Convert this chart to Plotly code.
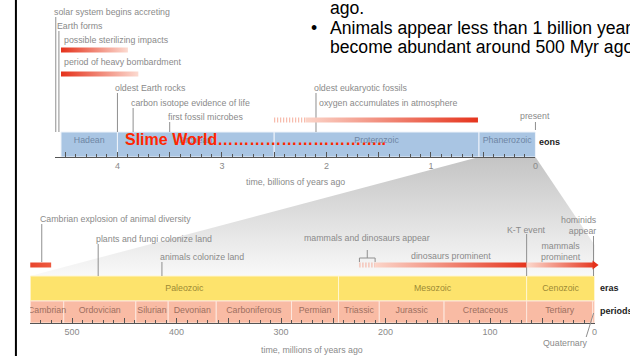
import plotly.graph_objects as go

# ---- data -------------------------------------------------------------------
# eons, billions of years ago
eon_names = ['Hadean', 'Archean', 'Proterozoic', 'Phanerozoic']
eon_start = [4.54, 4.0, 2.5, 0.54]
eon_end = [4.0, 2.5, 0.54, 0.0]

# eras and periods, millions of years ago
era_names = ['Paleozoic', 'Mesozoic', 'Cenozoic']
era_start = [540, 245, 65]
era_end = [245, 65, 0]

period_names = ['Cambrian', 'Ordovician', 'Silurian', 'Devonian', 'Carboniferous',
                'Permian', 'Triassic', 'Jurassic', 'Cretaceous', 'Tertiary']
period_start = [540, 508, 439, 408, 362, 290, 245, 206, 144, 65]
period_end = [508, 439, 408, 362, 290, 245, 206, 144, 65, 1.8]
quaternary = (1.8, 0)

# point events on the billion-year scale
top_events = ['solar system begins accreting', 'Earth forms', 'oldest Earth rocks',
              'carbon isotope evidence of life', 'first fossil microbes',
              'oldest eukaryotic fossils']
top_event_gyr = [4.59, 4.56, 4.0, 3.85, 3.5, 2.1]

# spans on the billion-year scale
top_spans = ['possible sterilizing impacts', 'period of heavy bombardment',
             'oxygen accumulates in atmosphere']
top_span_start = [4.54, 4.54, 2.2]
top_span_end = [3.9, 3.8, 0.55]
oxygen_first_traces = 2.5

# point events on the million-year scale
low_events = ['Cambrian explosion of animal diversity', 'plants and fungi colonize land',
              'animals colonize land', 'K-T event', 'hominids appear']
low_event_myr = [529, 475, 414, 65, 1]

cambrian_burst = (540, 520)
dinos_mammals_appear = (225, 210)
dinosaurs_prominent = (210, 65)
mammals_prominent = (65, 0)

top_ticks = [0, 0.5, 1, 1.5, 2, 2.5, 3, 3.5, 4, 4.5]
low_ticks = list(range(0, 541, 50))

# ---- page geometry (pixels) ------------------------------------------------
W, H = 630, 356
GYR_ZERO_PX, PX_PER_GYR = 538, 105
MYR_ZERO_PX, PX_PER_MYR = 597.4, 1.05
TOP_AXIS_START = 4.6


def gyr_px(t):
    return GYR_ZERO_PX - PX_PER_GYR * t


def myr_px(t):
    return MYR_ZERO_PX - PX_PER_MYR * t


EON_Y, EON_H = 144.5, 25
TOP_AXIS_Y = 157
ERA_Y, ERA_H = 288.5, 25
PER_Y, PER_H = 312, 22
LOW_AXIS_Y = 323
ERA_TOP = ERA_Y - ERA_H / 2

GRAY = '#8a8a8a'
LINE_GRAY = '#8f8f8f'
RED = '#e5321b'
PINK = '#fcdcd2'
FONT = 'Liberation Sans, Arial, sans-serif'
LABEL = dict(family=FONT, size=8.8, color=GRAY)

fig = go.Figure()


def mid(a, b):
    return (a + b) / 2


def grad_bar(x0, x1, y, h, c0, c1, xaxis):
    return go.Scatter(x=[x0, x1, x1, x0, x0],
                      y=[y - h / 2, y - h / 2, y + h / 2, y + h / 2, y - h / 2],
                      mode='lines', line=dict(width=0), fill='toself',
                      fillgradient=dict(type='horizontal',
                                        colorscale=[[0, c0], [1, c1]],
                                        start=x0, stop=x1),
                      xaxis=xaxis, yaxis='y', hoverinfo='skip')


def dashes(x0, x1, y, xaxis):
    return go.Scatter(x=[x0, x1], y=[y, y], mode='lines',
                      line=dict(color='#f5ad9b', width=5, dash='1px,2px'),
                      xaxis=xaxis, yaxis='y', hoverinfo='skip')


# zoom wedge from the Phanerozoic down to the lower scale (pixel axis)
wx = [gyr_px(eon_start[3]), gyr_px(eon_end[3]), myr_px(0), myr_px(0),
      myr_px(era_start[0]), gyr_px(eon_start[3])]
wy = [TOP_AXIS_Y, TOP_AXIS_Y, 245, ERA_TOP, ERA_TOP, TOP_AXIS_Y]
fig.add_trace(go.Scatter(x=wx, y=wy, mode='lines', line=dict(width=0), fill='toself',
                         fillgradient=dict(type='vertical',
                                           colorscale=[[0, '#c4c4c4'], [1, '#f9f9f9']],
                                           start=TOP_AXIS_Y, stop=ERA_TOP),
                         xaxis='x', yaxis='y', hoverinfo='skip'))

# eon bar
fig.add_trace(go.Bar(orientation='h', y=[EON_Y] * len(eon_names),
                     x=[s - e for s, e in zip(eon_start, eon_end)], base=eon_end,
                     width=EON_H, marker=dict(color='#a9c5e3',
                                              line=dict(color='#eef3fa', width=1)),
                     xaxis='x2', yaxis='y', hoverinfo='skip'))
fig.add_trace(go.Scatter(x=[mid(s, e) for s, e in zip(eon_start, eon_end)],
                         y=[EON_Y - 3.5] * len(eon_names), mode='text', text=eon_names,
                         textfont=dict(family=FONT, size=8.8, color='#6f85a3'),
                         xaxis='x2', yaxis='y', hoverinfo='skip'))

# era and period bars
fig.add_trace(go.Bar(orientation='h', y=[ERA_Y] * len(era_names),
                     x=[s - e for s, e in zip(era_start, era_end)], base=era_end,
                     width=ERA_H, marker=dict(color='#fde36c',
                                              line=dict(color='#fff6d0', width=1)),
                     xaxis='x3', yaxis='y', hoverinfo='skip'))
fig.add_trace(go.Bar(orientation='h', y=[PER_Y] * (len(period_names) + 1),
                     x=[s - e for s, e in zip(period_start + [quaternary[0]],
                                              period_end + [quaternary[1]])],
                     base=period_end + [quaternary[1]],
                     width=PER_H, marker=dict(color='#f9bba4',
                                              line=dict(color='#fde6dc', width=1)),
                     xaxis='x3', yaxis='y', hoverinfo='skip'))
fig.add_trace(go.Scatter(x=[mid(s, e) for s, e in zip(era_start, era_end)],
                         y=[ERA_Y] * len(era_names), mode='text', text=era_names,
                         textfont=dict(family=FONT, size=8.8, color='#9c8a35'),
                         xaxis='x3', yaxis='y', hoverinfo='skip'))
fig.add_trace(go.Scatter(x=[mid(s, e) for s, e in zip(period_start, period_end)],
                         y=[PER_Y - 1] * len(period_names), mode='text', text=period_names,
                         textfont=dict(family=FONT, size=8.8, color='#9d6f60'),
                         xaxis='x3', yaxis='y', hoverinfo='skip'))

# top events: leader lines and labels
top_label_y = [12, 26, 88, 103, 117, 88]
bar_top = EON_Y - EON_H / 2
lx, ly = [], []
for t, yl in zip(top_event_gyr, top_label_y):
    lx += [t, t, None]
    ly += [yl + 5, bar_top, None]
lx += [0, 0, None]
ly += [122, 130, None]
fig.add_trace(go.Scatter(x=lx, y=ly, mode='lines', line=dict(color=LINE_GRAY, width=1),
                         xaxis='x4', yaxis='y', hoverinfo='skip'))
for name, t, yl in zip(top_events, top_event_gyr, top_label_y):
    fig.add_annotation(x=t, y=yl, xref='x4', yref='y', text=name, showarrow=False,
                       xanchor='left', xshift=-4, font=LABEL)
fig.add_annotation(x=0, y=116, xref='x4', yref='y', text='present', showarrow=False,
                   font=LABEL)

# top spans
span_y = [50, 74, 120]
span_label_y = [40, 62, 103]
fig.add_trace(grad_bar(top_span_start[0], top_span_end[0], span_y[0], 5, RED, PINK, 'x4'))
fig.add_trace(grad_bar(top_span_start[1], top_span_end[1], span_y[1], 5, RED, PINK, 'x4'))
fig.add_trace(dashes(oxygen_first_traces, top_span_start[2], span_y[2], 'x4'))
fig.add_trace(grad_bar(top_span_start[2], top_span_end[2], span_y[2], 5, '#fbd3c7', RED, 'x4'))
for name, t, yl in zip(top_spans, [top_span_start[0], top_span_start[1], top_event_gyr[5]],
                       span_label_y):
    fig.add_annotation(x=t, y=yl, xref='x4', yref='y', text=name, showarrow=False,
                       xanchor='left', xshift=1, font=LABEL)

# lower events
low_label_y = [219, 239, 257, 230, 225.5]
low_line_top = [224, 244, 262, 234, 236]
low_line_bot = [262, ERA_TOP, ERA_TOP, ERA_TOP, ERA_TOP]
lx, ly = [], []
for t, y0, y1 in zip(low_event_myr, low_line_top, low_line_bot):
    lx += [t, t, None]
    ly += [y0, y1, None]
# bracket for "mammals and dinosaurs appear"
a, b = dinos_mammals_appear
lx += [a, a, b, b, None, mid(a, b), mid(a, b), None]
ly += [262, 258, 258, 262, None, 258, 250, None]
# Quaternary leader
lx += [mid(*quaternary), 8, None]
ly += [313, 337, None]
fig.add_trace(go.Scatter(x=lx, y=ly, mode='lines', line=dict(color=LINE_GRAY, width=1),
                         xaxis='x5', yaxis='y', hoverinfo='skip'))

for i in range(3):
    fig.add_annotation(x=low_event_myr[i], y=low_label_y[i], xref='x5', yref='y',
                       text=low_events[i], showarrow=False, xanchor='left', xshift=-4,
                       font=LABEL)
fig.add_annotation(x=low_event_myr[3], y=low_label_y[3], xref='x5', yref='y',
                   text=low_events[3], showarrow=False, font=LABEL)
fig.add_annotation(x=low_event_myr[4], y=low_label_y[4], xref='x5', yref='y',
                   text='hominids<br>appear', showarrow=False, xanchor='right',
                   align='right', xshift=5, font=LABEL)
fig.add_annotation(x=mid(a, b), y=238, xref='x5', yref='y',
                   text='mammals and dinosaurs appear', showarrow=False, font=LABEL)
fig.add_annotation(x=mid(*dinosaurs_prominent), y=256, xref='x5', yref='y',
                   text='dinosaurs prominent', showarrow=False, font=LABEL)
fig.add_annotation(x=mid(*mammals_prominent), y=251, xref='x5', yref='y',
                   text='mammals<br>prominent', showarrow=False, font=LABEL)
fig.add_annotation(x=28, y=343, xref='x5', yref='y', text='Quaternary',
                   showarrow=False, font=LABEL)

# lower spans
LOW_SPAN_Y = 265
fig.add_trace(grad_bar(cambrian_burst[0], cambrian_burst[1], LOW_SPAN_Y, 5,
                       '#e8452d', '#ee5a40', 'x5'))
fig.add_trace(dashes(dinos_mammals_appear[0], dinos_mammals_appear[1], LOW_SPAN_Y, 'x5'))
fig.add_trace(grad_bar(dinosaurs_prominent[0], dinosaurs_prominent[1], LOW_SPAN_Y, 5,
                       '#fbd3c7', RED, 'x5'))
fig.add_trace(grad_bar(mammals_prominent[0], mammals_prominent[1], LOW_SPAN_Y, 5,
                       '#fbd3c7', RED, 'x5'))
fig.add_trace(go.Scatter(x=[mammals_prominent[1]], y=[LOW_SPAN_Y], mode='markers',
                         marker=dict(symbol='triangle-right', size=8, color=RED),
                         xaxis='x5', yaxis='y', hoverinfo='skip'))

# slide commentary
fig.add_annotation(x=3.93, y=139, xref='x4', yref='y',
                   text='<b>Slime World' + '\u2026' * 10 + '..</b>', showarrow=False,
                   xanchor='left', xshift=-2,
                   font=dict(family=FONT, size=16, color='#ff2600'))
SLIDE = dict(family=FONT, size=17.6, color='black')
fig.add_annotation(x=330 / W, y=8, xref='paper', yref='y', text='ago.',
                   showarrow=False, xanchor='left', font=SLIDE)
fig.add_annotation(x=330 / W, y=28, xref='paper', yref='y',
                   text='Animals appear less than 1 billion years', showarrow=False,
                   xanchor='left', font=SLIDE)
fig.add_annotation(x=330 / W, y=47, xref='paper', yref='y',
                   text='become abundant around 500 Myr ago.', showarrow=False,
                   xanchor='left', font=SLIDE)
fig.add_annotation(x=316 / W, y=28, xref='paper', yref='y', text='\u2022',
                   showarrow=False, font=SLIDE)

# axis titles and row names
fig.add_annotation(x=0.5, y=182, xref='x2 domain', yref='y',
                   text='time, billions of years ago', showarrow=False, font=LABEL)
fig.add_annotation(x=0.5, y=350, xref='x3 domain', yref='y',
                   text='time, millions of years ago', showarrow=False, font=LABEL)
BOLD = dict(family=FONT, size=9, color='#222')
fig.add_annotation(x=1, y=142, xref='x2 domain', yref='y', text='<b>eons</b>',
                   showarrow=False, xanchor='left', xshift=2, font=BOLD)
fig.add_annotation(x=1, y=288, xref='x3 domain', yref='y', text='<b>eras</b>',
                   showarrow=False, xanchor='left', xshift=3, font=BOLD)
fig.add_annotation(x=1, y=311, xref='x3 domain', yref='y', text='<b>periods</b>',
                   showarrow=False, xanchor='left', xshift=3, font=BOLD)

tick_style = dict(anchor='free', showline=True, linecolor='#555', linewidth=1,
                  ticks='inside', ticklen=5, tickcolor='#555', tickwidth=1,
                  showgrid=False, zeroline=False,
                  tickfont=dict(family=FONT, size=9, color=GRAY))

fig.update_layout(
    width=W, height=H, margin=dict(l=0, r=0, t=0, b=0),
    paper_bgcolor='white', plot_bgcolor='rgba(0,0,0,0)',
    showlegend=False, barmode='overlay',
    xaxis=dict(domain=[0, 1], range=[0, W], visible=False, anchor='y'),
    xaxis2=dict(domain=[gyr_px(TOP_AXIS_START) / W, gyr_px(0) / W],
                range=[TOP_AXIS_START, 0], position=1 - TOP_AXIS_Y / H,
                tickvals=top_ticks,
                ticktext=[str(int(v)) if v == int(v) else '' for v in top_ticks],
                minor=dict(dtick=0.1, ticks='inside', ticklen=3, tickcolor='#555'),
                **tick_style),
    xaxis3=dict(domain=[myr_px(540) / W, myr_px(0) / W],
                range=[540, 0], position=1 - LOW_AXIS_Y / H,
                tickvals=low_ticks,
                ticktext=[str(v) if v % 100 == 0 else '' for v in low_ticks],
                minor=dict(dtick=10, ticks='inside', ticklen=3, tickcolor='#555'),
                **tick_style),
    xaxis4=dict(domain=[0, 1], range=[GYR_ZERO_PX / PX_PER_GYR,
                                      (GYR_ZERO_PX - W) / PX_PER_GYR],
                visible=False, anchor='y'),
    xaxis5=dict(domain=[0, 1], range=[MYR_ZERO_PX / PX_PER_MYR,
                                      (MYR_ZERO_PX - W) / PX_PER_MYR],
                visible=False, anchor='y'),
    yaxis=dict(domain=[0, 1], range=[H, 0], visible=False, anchor='x'),
    shapes=[dict(type='line', xref='paper', yref='paper', x0=16 / W, x1=16 / W,
                 y0=0, y1=1, line=dict(color='black', width=2))],
)

# the page's default body margin would push the figure 8px off the window
fig.write_html('out.html', config={'displayModeBar': False},
               post_script="document.body.style.margin = '0';")
